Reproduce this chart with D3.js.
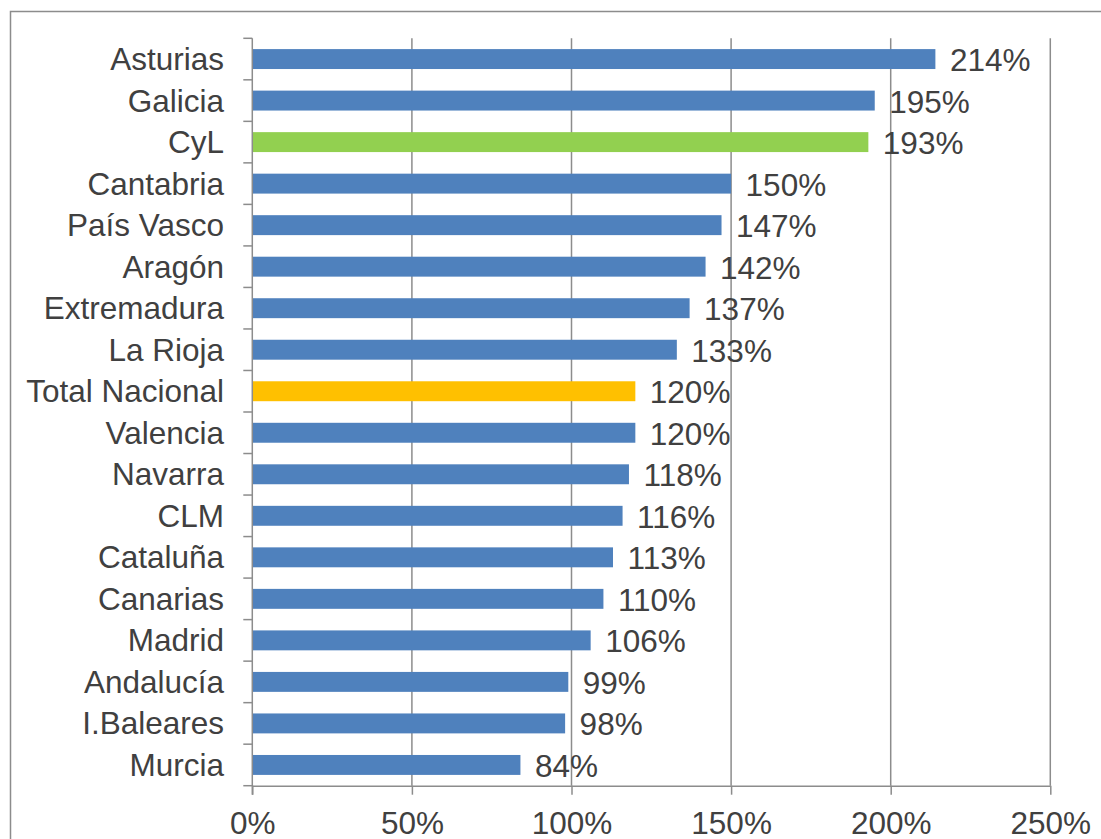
<!DOCTYPE html>
<html>
<head>
<meta charset="utf-8">
<script src="https://cdn.jsdelivr.net/npm/d3@7"></script>
<style>
  html, body { margin: 0; padding: 0; background: #fff; overflow: hidden; }
  text { font-family: "Liberation Sans", Arial, sans-serif; fill: #404040; }
</style>
</head>
<body>
<div class="container"></div>
<script>
// Regions and their values (%)
const regions = ["Asturias", "Galicia", "CyL", "Cantabria", "País Vasco", "Aragón",
  "Extremadura", "La Rioja", "Total Nacional", "Valencia", "Navarra", "CLM",
  "Cataluña", "Canarias", "Madrid", "Andalucía", "I.Baleares", "Murcia"];
const values = [214, 195, 193, 150, 147, 142, 137, 133, 120, 120, 118, 116, 113, 110, 106, 99, 98, 84];
const xTicks = [0, 50, 100, 150, 200, 250];

const width = 1101;
const height = 839;
const fontSize = 31.5;

// Colour by region: CyL and the national total stand out
const colorFor = function(name) {
  if (name === "CyL") return "#92D050";
  if (name === "Total Nacional") return "#FFC000";
  return "#4F81BD";
};

const svg = d3.select(".container").append("svg")
    .attr("width", width)
    .attr("height", height);

// Outer chart frame (cut off at right and bottom)
svg.append("rect")
    .attr("x", 10.5).attr("y", 11.5)
    .attr("width", 1200).attr("height", 1000)
    .attr("fill", "none")
    .attr("stroke", "#8c8c8c")
    .attr("stroke-width", 1.5);

const x = d3.scaleLinear()
    .domain([0, 250])
    .range([252.3, 1050.3]);

const y = d3.scaleBand()
    .domain(regions)
    .range([38.3, 785.7])
    .paddingInner(0.52)
    .paddingOuter(0.26);

const plotTop = y.range()[0], plotBottom = y.range()[1];

// Vertical gridlines
svg.append("g")
  .selectAll("line")
  .data(xTicks.slice(1))
  .enter().append("line")
    .attr("x1", d => x(d)).attr("x2", d => x(d))
    .attr("y1", plotTop).attr("y2", plotBottom)
    .attr("stroke", "#8c8c8c")
    .attr("stroke-width", 1.5);

// Bars
svg.append("g")
  .selectAll("rect")
  .data(regions)
  .enter().append("rect")
    .attr("x", x(0))
    .attr("y", d => y(d))
    .attr("width", (d, i) => x(values[i]) - x(0))
    .attr("height", y.bandwidth())
    .attr("fill", d => colorFor(d));

// Value labels
svg.append("g")
  .selectAll("text")
  .data(regions)
  .enter().append("text")
    .attr("x", (d, i) => x(values[i]) + 14.5)
    .attr("y", d => y(d) + y.bandwidth() / 2 + 1)
    .attr("dy", "0.35em")
    .attr("font-size", fontSize)
    .text((d, i) => values[i] + "%");

// Y axis: line, ticks at band boundaries, labels
const yAxis = svg.append("g");
yAxis.append("line")
    .attr("x1", x(0)).attr("x2", x(0))
    .attr("y1", plotTop).attr("y2", plotBottom + 9)
    .attr("stroke", "#8c8c8c")
    .attr("stroke-width", 1.5);

yAxis.selectAll("line.tick")
  .data(d3.range(regions.length + 1))
  .enter().append("line")
    .attr("class", "tick")
    .attr("x1", x(0) - 9).attr("x2", x(0))
    .attr("y1", i => plotTop + i * y.step())
    .attr("y2", i => plotTop + i * y.step())
    .attr("stroke", "#8c8c8c")
    .attr("stroke-width", 1.5);

yAxis.selectAll("text")
  .data(regions)
  .enter().append("text")
    .attr("x", 224)
    .attr("y", d => y(d) + y.bandwidth() / 2)
    .attr("dy", "0.35em")
    .attr("text-anchor", "end")
    .attr("font-size", fontSize)
    .text(d => d);

// X axis along the bottom
svg.append("g")
    .attr("transform", `translate(0,${plotBottom})`)
    .call(d3.axisBottom(x)
      .tickValues(xTicks)
      .tickSize(9)
      .tickPadding(17)
      .tickSizeOuter(0)
      .tickFormat(d => d + "%"))
    .call(g => g.selectAll("line, path").attr("stroke", "#8c8c8c").attr("stroke-width", 1.5))
    .call(g => g.selectAll("text")
      .attr("font-size", fontSize)
      .attr("fill", "#404040")
      .attr("font-family", "Liberation Sans, Arial, sans-serif"));
</script>
</body>
</html>
